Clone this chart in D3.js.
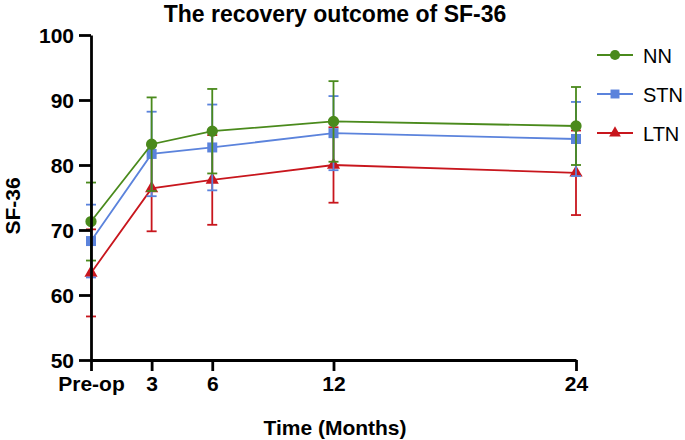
<!DOCTYPE html>
<html><head><meta charset="utf-8">
<script src="https://cdn.jsdelivr.net/npm/d3@7"></script>
<style>body{margin:0;background:#fff}text{font-family:"Liberation Sans",Arial,sans-serif}</style>
</head><body>
<svg id="c" width="685" height="440"></svg>
<script>
const timeLabels = ["Pre-op","3","6","12","24"];
const months = [0,3,6,12,24];
const yTicks = [50,60,70,80,90,100];
const seriesNames = ["NN","STN","LTN"];
const nnMean = [71.3,83.2,85.2,86.7,86.0];
const nnSD   = [6.0,7.2,6.5,6.2,6.0];
const stnMean = [68.3,81.7,82.7,84.9,84.0];
const stnSD   = [5.6,6.5,6.6,5.7,5.7];
const ltnMean = [63.4,76.4,77.7,80.0,78.8];
const ltnSD   = [6.7,6.6,6.9,5.8,6.5];
const colors = ["#4a8a1c","#5b83dc","#c8161d"];

const svg = d3.select("#c");
const x = d3.scaleLinear().domain([0,24]).range([91,576]);
const y = d3.scaleLinear().domain([50,100]).range([360,35]);

const series = [
  {name:seriesNames[0], mean:nnMean, sd:nnSD, color:colors[0], sym:d3.symbolCircle, size:100},
  {name:seriesNames[1], mean:stnMean, sd:stnSD, color:colors[1], sym:d3.symbolSquare, size:100},
  {name:seriesNames[2], mean:ltnMean, sd:ltnSD, color:colors[2], sym:d3.symbolTriangle, size:75}
];

const drawOrder = [2,1,0];
drawOrder.forEach(i=>{
  const s = series[i];
  const g = svg.append("g");
  const pts = months.map((m,j)=>({m, v:s.mean[j], sd:s.sd[j]}));
  pts.forEach(p=>{
    g.append("line").attr("x1",x(p.m)).attr("x2",x(p.m)).attr("y1",y(p.v+p.sd)).attr("y2",y(p.v-p.sd))
      .attr("stroke",s.color).attr("stroke-width",1.8);
    [p.v+p.sd,p.v-p.sd].forEach(e=>{
      g.append("line").attr("x1",x(p.m)-5).attr("x2",x(p.m)+5).attr("y1",y(e)).attr("y2",y(e))
        .attr("stroke",s.color).attr("stroke-width",1.8);
    });
  });
  g.append("path").datum(pts).attr("fill","none").attr("stroke",s.color).attr("stroke-width",1.8)
    .attr("d",d3.line().x(d=>x(d.m)).y(d=>y(d.v)));
  g.selectAll("path.m").data(pts).enter().append("path").attr("class","m")
    .attr("transform",d=>`translate(${x(d.m)},${y(d.v)})`)
    .attr("d",d3.symbol().type(s.sym).size(s.size)).attr("fill",s.color);
});

const yAxis = svg.append("g").attr("transform","translate(91,0)")
  .call(d3.axisLeft(y).tickValues(yTicks).tickSize(12).tickSizeOuter(0));
const xAxis = svg.append("g").attr("transform","translate(0,360)")
  .call(d3.axisBottom(x).tickValues(months).tickFormat((d,i)=>timeLabels[i]).tickSize(11).tickSizeOuter(0));
[yAxis,xAxis].forEach(a=>{
  a.select(".domain").attr("stroke","#000").attr("stroke-width",2.8);
  a.selectAll(".tick line").attr("stroke","#000").attr("stroke-width",2.8);
  a.selectAll(".tick text").attr("fill","#000").attr("font-size",21).attr("font-weight","bold")
    .attr("font-family","'Liberation Sans',Arial,sans-serif");
});
yAxis.selectAll(".tick text").attr("x",-17).attr("dy","0.35em");
xAxis.selectAll(".tick text").attr("y",16);

svg.append("text").attr("x",335).attr("y",22).attr("text-anchor","middle")
  .attr("font-size",23).attr("font-weight","bold").text("The recovery outcome of SF-36");
svg.append("text").attr("transform","translate(20,206) rotate(-90)").attr("text-anchor","middle")
  .attr("font-size",21).attr("font-weight","bold").text("SF-36");
svg.append("text").attr("x",335).attr("y",435).attr("text-anchor","middle")
  .attr("font-size",21).attr("font-weight","bold").text("Time (Months)");

series.forEach((s,i)=>{
  const ly = 55 + i*39;
  svg.append("line").attr("x1",597).attr("x2",633).attr("y1",ly).attr("y2",ly).attr("stroke",s.color).attr("stroke-width",1.8);
  svg.append("path").attr("transform",`translate(615,${ly})`).attr("d",d3.symbol().type(s.sym).size(s.size*0.8)).attr("fill",s.color);
  svg.append("text").attr("x",643).attr("y",ly+7.5).attr("font-size",20).text(s.name);
});
</script>
</body></html>
